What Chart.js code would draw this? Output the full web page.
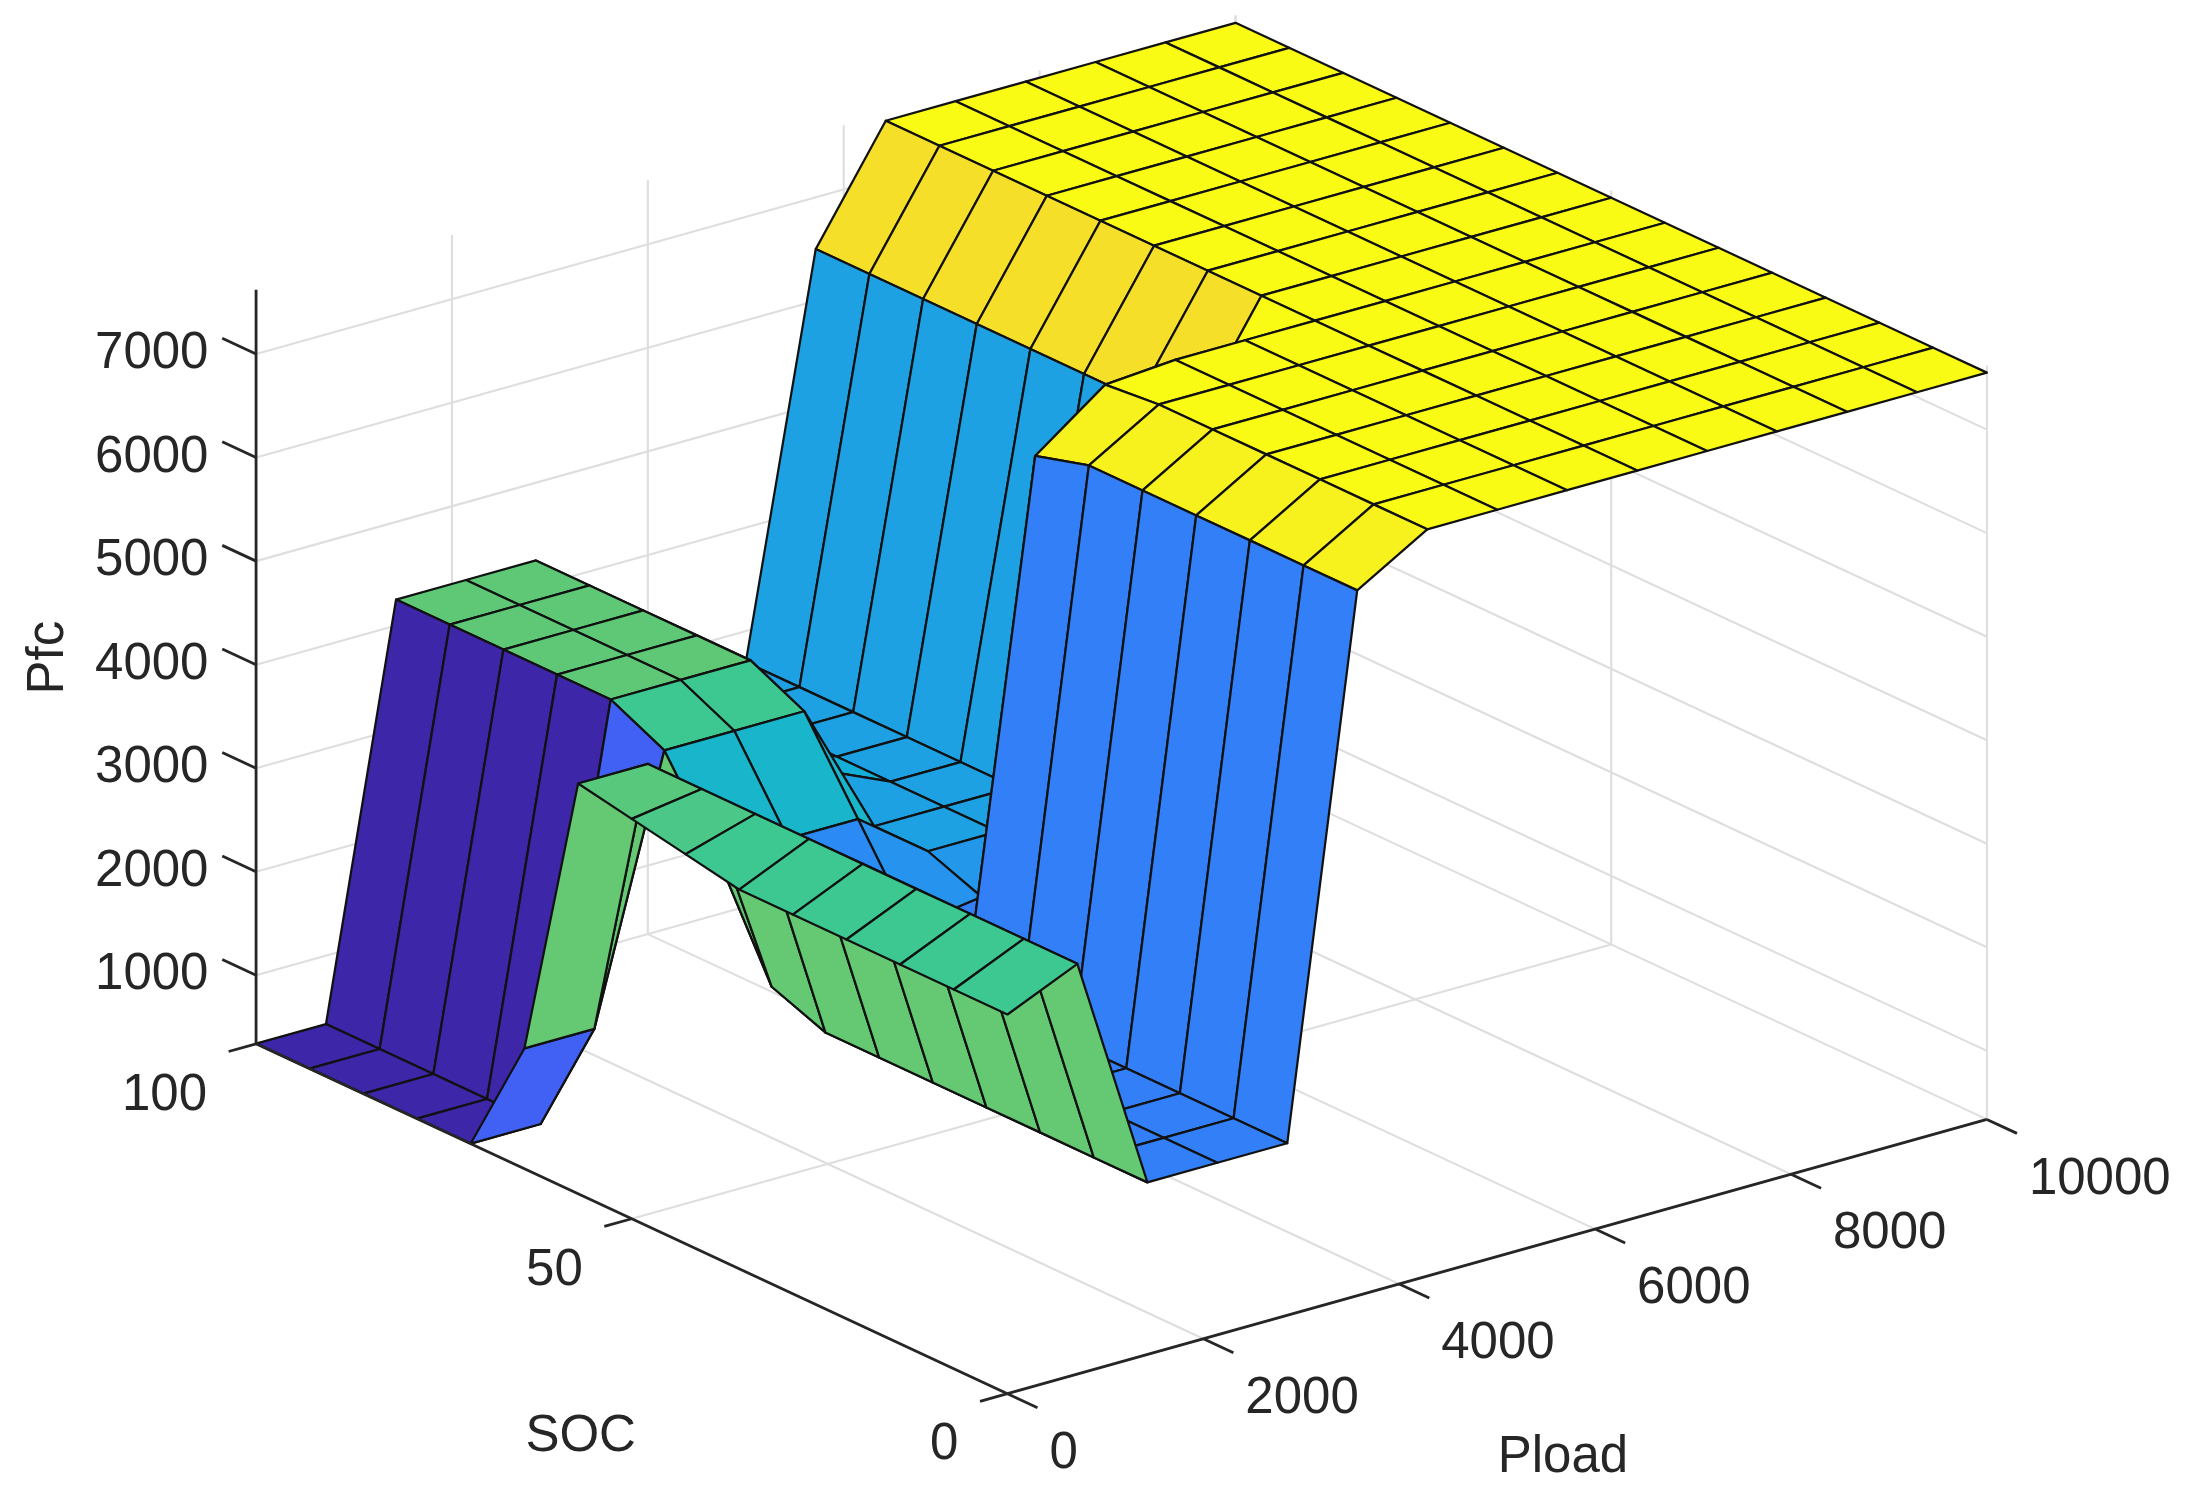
<!DOCTYPE html>
<html><head><meta charset="utf-8">
<script src="https://cdn.jsdelivr.net/npm/chart.js@4/dist/chart.umd.min.js"></script>
<style>html,body{margin:0;padding:0;background:#fff}#wrap{width:2194px;height:1493px}</style>
</head><body><div id="wrap"><canvas id="c"></canvas></div>
<script>
// ---- data (15x15 fuzzy surface, gensurf style) ----
const socValues = [0,7.14,14.29,21.43,28.57,35.71,42.86,50,57.14,64.29,71.43,78.57,85.71,92.86,100];
const ploadValues = [0,714,1429,2143,2857,3571,4286,5000,5714,6429,7143,7857,8571,9286,10000];
// rows: SOC index, columns: Pload index
const pfcRow0  = [4000,4300,2000,2000,2000,7150,7550,7550,7550,7550,7550,7550,7550,7550,7550];
const pfcRow1  = [4000,4300,2000,2000,2000,7150,7550,7550,7550,7550,7550,7550,7550,7550,7550];
const pfcRow2  = [4000,4300,2000,2000,2000,7150,7550,7550,7550,7550,7550,7550,7550,7550,7550];
const pfcRow3  = [4000,4300,2000,2000,2000,7150,7550,7550,7550,7550,7550,7550,7550,7550,7550];
const pfcRow4  = [4000,4300,2000,2000,2000,7150,7550,7550,7550,7550,7550,7550,7550,7550,7550];
const pfcRow5  = [4000,4300,2000,2000,2000,7150,7550,7550,7550,7550,7550,7550,7550,7550,7550];
const pfcRow6  = [4100,4300,2000,2000,2000,7000,7500,7550,7550,7550,7550,7550,7550,7550,7550];
const pfcRow7  = [4200,4300,2200,2200,2400,2500,2500,2500,6500,7550,7550,7550,7550,7550,7550];
const pfcRow8  = [4300,4300,3200,3200,3200,2700,2700,2700,6500,7550,7550,7550,7550,7550,7550];
const pfcRow9  = [1500,1500,4000,4000,4000,2700,2700,2700,6500,7550,7550,7550,7550,7550,7550];
const pfcRow10 = [340,340,4250,4250,4250,3000,2700,2700,6500,7550,7550,7550,7550,7550,7550];
const pfcRow11 = [340,340,4250,4250,4250,3000,2700,2700,6500,7550,7550,7550,7550,7550,7550];
const pfcRow12 = [340,340,4250,4250,4250,3000,2700,2700,6500,7550,7550,7550,7550,7550,7550];
const pfcRow13 = [340,340,4250,4250,4250,3000,2700,2700,6500,7550,7550,7550,7550,7550,7550];
const pfcRow14 = [340,340,4250,4250,4250,3000,2700,2700,6500,7550,7550,7550,7550,7550,7550];
const pfc = [pfcRow0,pfcRow1,pfcRow2,pfcRow3,pfcRow4,pfcRow5,pfcRow6,pfcRow7,pfcRow8,pfcRow9,pfcRow10,pfcRow11,pfcRow12,pfcRow13,pfcRow14];
const socTicks = [0,50,100];
const ploadTicks = [0,2000,4000,6000,8000,10000];
const pfcTicks = [1000,2000,3000,4000,5000,6000,7000];
const pfcLimits = [338,7620];
const axisTitles = {x:'Pload', y:'SOC', z:'Pfc'};

// ---- view (orthographic projection into plot units) ----
const W = 1568, H = 1067;
function proj(s,p,z){
  return {x: 720 - 5.37*s + 0.07*p,
          y: 996 - 2.5*s - 0.0196*p - 0.074*(z - pfcLimits[0])};
}
const parula = [[0,[62,38,168]],[0.125,[72,82,244]],[0.25,[46,135,247]],[0.375,[18,177,214]],
  [0.5,[55,200,151]],[0.625,[171,199,57]],[0.75,[254,195,56]],[0.875,[245,229,38]],[1,[249,251,21]]];
function cmap(t){
  t=Math.max(0,Math.min(1,t));
  for(let k=1;k<parula.length;k++){
    if(t<=parula[k][0]){const [t0,c0]=parula[k-1],[t1,c1]=parula[k];const f=(t-t0)/(t1-t0);
      return 'rgb('+c0.map((v,i)=>Math.round(v+(c1[i]-v)*f)).join(',')+')';}
  }
  return 'rgb(249,251,21)';
}
let zmin=Infinity,zmax=-Infinity;
pfc.forEach(r=>r.forEach(v=>{zmin=Math.min(zmin,v);zmax=Math.max(zmax,v);}));

const verts=[];
for(let i=0;i<socValues.length;i++)for(let j=0;j<ploadValues.length;j++){
  const q=proj(socValues[i],ploadValues[j],pfc[i][j]);verts.push({x:q.x,y:q.y});
}

const surfacePlugin={
  id:'surface3d',
  afterDatasetsDraw(chart){
    const ctx=chart.ctx, xs=chart.scales.x, ys=chart.scales.y;
    const k=chart.width/W;
    const P=(s,p,z)=>{const q=proj(s,p,z);return [xs.getPixelForValue(q.x),ys.getPixelForValue(q.y)];};
    const line=(a,b,col,w)=>{ctx.beginPath();ctx.moveTo(a[0],a[1]);ctx.lineTo(b[0],b[1]);ctx.strokeStyle=col;ctx.lineWidth=w;ctx.stroke();};
    const z0=pfcLimits[0],z1=pfcLimits[1], sMax=100, pMax=10000;
    const grid='#dedede', gw=1.5*k;
    // back walls & floor grid
    pfcTicks.forEach(z=>{line(P(sMax,0,z),P(sMax,pMax,z),grid,gw);line(P(sMax,pMax,z),P(0,pMax,z),grid,gw);});
    ploadTicks.forEach(p=>{line(P(sMax,p,z0),P(sMax,p,z1),grid,gw);line(P(0,p,z0),P(sMax,p,z0),grid,gw);});
    socTicks.forEach(s=>{line(P(s,pMax,z0),P(s,pMax,z1),grid,gw);line(P(s,0,z0),P(s,pMax,z0),grid,gw);});
    // faces
    const faces=[];
    for(let i=0;i<socValues.length-1;i++)for(let j=0;j<ploadValues.length-1;j++){
      const c=[[i,j],[i,j+1],[i+1,j+1],[i+1,j]];
      const sc=(socValues[i]+socValues[i+1])/2, pc=(ploadValues[j]+ploadValues[j+1])/2;
      faces.push({c,depth:proj(sc,pc,z0).y,col:cmap((pfc[i][j]-zmin)/(zmax-zmin))});
    }
    faces.sort((a,b)=>a.depth-b.depth);
    ctx.lineJoin='round';
    faces.forEach(f=>{
      ctx.beginPath();
      f.c.forEach(([i,j],n)=>{const q=P(socValues[i],ploadValues[j],pfc[i][j]);n?ctx.lineTo(q[0],q[1]):ctx.moveTo(q[0],q[1]);});
      ctx.closePath();ctx.fillStyle=f.col;ctx.fill();ctx.strokeStyle='#111';ctx.lineWidth=1.6*k;ctx.stroke();
    });
    // axes
    const ax='#262626', aw=2*k;
    line(P(sMax,0,z0),P(sMax,0,z1),ax,aw);
    line(P(sMax,0,z0),P(0,0,z0),ax,aw);
    line(P(0,0,z0),P(0,pMax,z0),ax,aw);
    ctx.fillStyle=ax;ctx.font=Math.round(36.5*k)+'px "Liberation Sans", Arial, sans-serif';
    ctx.textBaseline='middle';
    pfcTicks.forEach(z=>{const a=P(sMax,0,z),b=P(sMax+4.5,0,z);line(a,b,ax,aw);
      ctx.textAlign='right';ctx.fillText(String(z),a[0]-34*k,a[1]);});
    socTicks.forEach(s=>{const a=P(s,0,z0),b=P(s,-280,z0);line(a,b,ax,aw);
      ctx.textAlign='right';ctx.fillText(String(s),a[0]-35*k,a[1]+37*k);});
    ploadTicks.forEach(p=>{const a=P(0,p,z0),b=P(-4,p,z0);line(a,b,ax,aw);
      ctx.textAlign='left';ctx.fillText(String(p),a[0]+30*k,a[1]+43*k);});
    ctx.textAlign='center';
    ctx.fillText(axisTitles.y,415*k,1027*k);
    ctx.fillText(axisTitles.x,1117*k,1042*k);
    ctx.save();ctx.translate(35*k,470*k);ctx.rotate(-Math.PI/2);ctx.fillText(axisTitles.z,0,0);ctx.restore();
  }
};

new Chart(document.getElementById('c'),{
  type:'scatter',
  data:{datasets:[{label:'Pfc surface',data:verts,pointRadius:0,showLine:false}]},
  options:{responsive:true,maintainAspectRatio:false,animation:false,
    layout:{padding:0},
    plugins:{legend:{display:false},tooltip:{enabled:false}},
    scales:{x:{type:'linear',min:0,max:W,display:false},
            y:{type:'linear',min:0,max:H,reverse:true,display:false}}},
  plugins:[surfacePlugin]
});
</script></body></html>
